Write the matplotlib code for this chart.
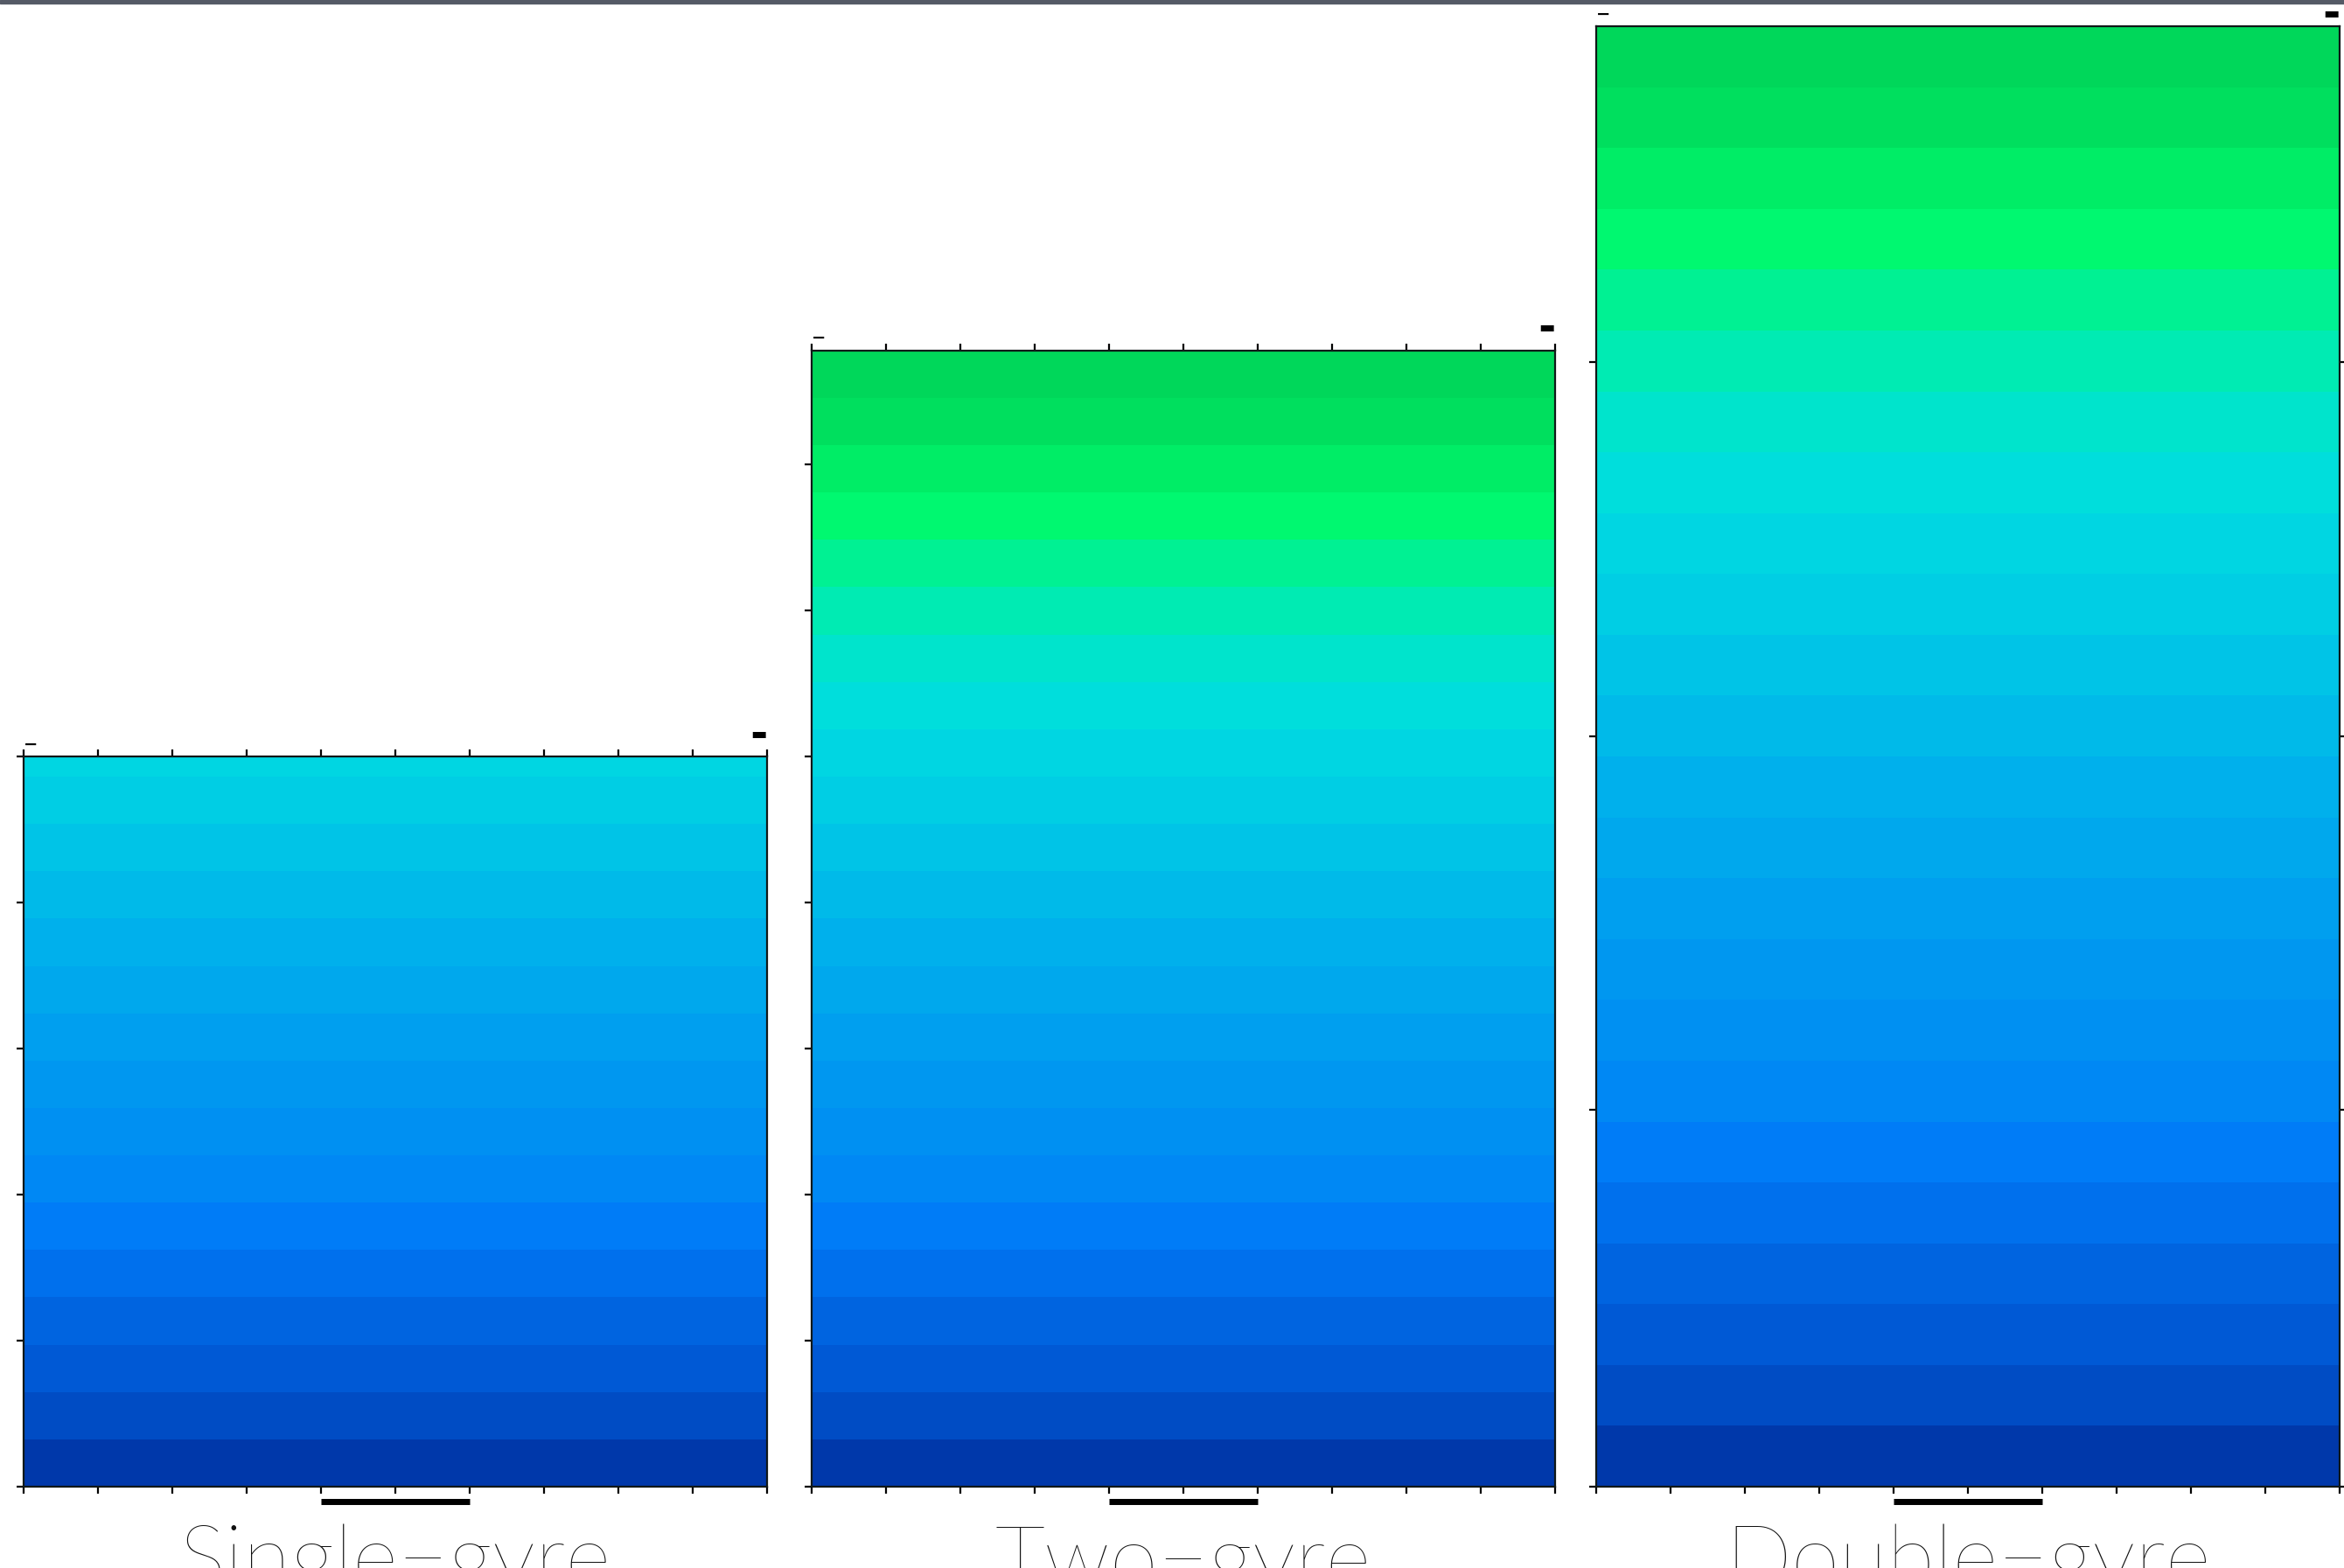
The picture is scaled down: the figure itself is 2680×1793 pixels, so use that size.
import numpy as np
import matplotlib
matplotlib.use("Agg")
import matplotlib.pyplot as plt
from matplotlib.colors import LinearSegmentedColormap
from matplotlib.patches import Rectangle

# three model configurations, column height in tick units
labels = ["Single\u2212gyre", "Two\u2212gyre", "Double\u2212gyre"]
heights = [5.0, 7.78, 10.0]
# height used to normalise the colour field in each panel
norms = [7.78, 7.78, 10.0]
yticks = [[0, 1, 2, 3, 4, 5],
          [0, 1, 2, 3, 4, 5, 6, 7],
          [0, 2.58, 5.14, 7.7]]
top_ticks = [True, True, False]
right_ticks = [False, False, True]

# colour bands, bottom (0) to top (1)
cpos = [0.0, 0.016, 0.062, 0.11, 0.16, 0.22, 0.27, 0.36, 0.47, 0.55,
        0.61, 0.68, 0.75, 0.81, 0.855, 0.89, 0.92, 0.955, 1.0]
ccol = ["#0030a0", "#0036a8", "#004cc4", "#005cd8", "#0068e4", "#007af8",
        "#0088f4", "#0098f0", "#00aeec", "#00c0e8", "#00d0e4", "#00dce0",
        "#00e8c4", "#00f098", "#00f870", "#00f068", "#00e460", "#00dc5c",
        "#00d458"]
cmap = LinearSegmentedColormap.from_list("gyre", list(zip(cpos, ccol)))
levels = np.linspace(0, 1, 25)

W, H = 2680, 1793
fig = plt.figure(figsize=(W / 100, H / 100), dpi=100)

lefts = [27, 928, 1825]
width = 850
bottom = 1700
unit_px = 167.0
corner_dy = [26, 26, 14]

for i in range(3):
    h_px = heights[i] * unit_px
    ax = fig.add_axes([lefts[i] / W, 1 - bottom / H, width / W, h_px / H])
    x = np.linspace(0, 1, 2)
    z = np.linspace(0, heights[i], 200)
    X, Z = np.meshgrid(x, z)
    ax.contourf(X, Z, Z / norms[i], levels=levels, cmap=cmap, vmin=0, vmax=1)
    ax.set_xlim(0, 1)
    ax.set_ylim(0, heights[i])
    ax.set_xticks(np.linspace(0, 1, 11))
    ax.set_yticks(yticks[i])
    ax.tick_params(direction="out", length=6, width=1.6, color="black",
                   top=top_ticks[i], bottom=True, left=True,
                   right=right_ticks[i],
                   labelbottom=False, labelleft=False)
    for s in ax.spines.values():
        s.set_linewidth(1.6)
        s.set_color("#101818")
    # squashed tick label under the bottom axis
    ax.plot([0.4, 0.6], [-17 / h_px] * 2, color="black", lw=5,
            transform=ax.get_xaxis_transform(), clip_on=False,
            solid_capstyle="butt")
    # squashed labels at the top corners
    ax.text(0.0, 1 + 14 / h_px, "\u2212", ha="left", va="center",
            fontsize=14, fontweight="bold", transform=ax.transAxes)
    ax.text(1.0, 1 + corner_dy[i] / h_px, "\u25ac", ha="right", va="center",
            fontsize=14, transform=ax.transAxes)
    fig.text((lefts[i] + width / 2) / W, 1 - 1743 / H, labels[i],
             ha="center", va="top", fontsize=72, fontweight="light",
             family=["Lato", "DejaVu Sans"], color="#111111")

fig.add_artist(Rectangle((0, 1 - 4 / H), 1, 4 / H, transform=fig.transFigure,
                         color="#555a66", zorder=10))

fig.savefig("out.png", dpi=100)
